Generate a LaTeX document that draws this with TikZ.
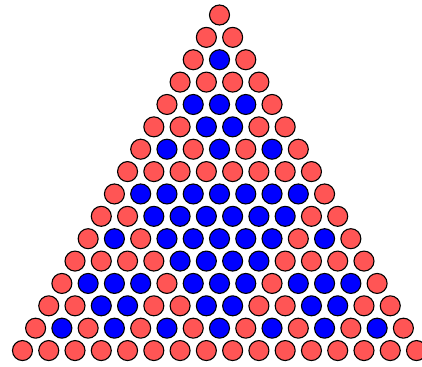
\documentclass[tikz,border=0pt]{standalone}
\usetikzlibrary{positioning}
\usepackage{xcolor}
\definecolor{oddc}{RGB}{255,85,85}
\definecolor{evenc}{RGB}{0,0,255}
\tikzset{
  ball/.style={circle, draw=black, line width=1.1pt, minimum size=20pt, inner sep=0pt}
}

\begin{document}
\begin{tikzpicture}[x=1pt,y=-1pt]
  \useasboundingbox (0,0) rectangle (422,366);

  % Pascal's triangle mod 2: odd entries red, even entries blue
  \foreach \r in {0,...,15}{
    \foreach \k in {0,...,\r}{
      \pgfmathtruncatemacro{\odd}{(mod(floor(\k/1),2)<=mod(floor(\r/1),2))*(mod(floor(\k/2),2)<=mod(floor(\r/2),2))*(mod(floor(\k/4),2)<=mod(floor(\r/4),2))*(mod(floor(\k/8),2)<=mod(floor(\r/8),2))}
      \ifnum\odd=1 \def\fc{oddc}\else\def\fc{evenc}\fi
      \node[ball, fill=\fc] (c\r-\k) at ({219.5+(\k-\r/2)*26.27},{15+\r*22.37}) {};
    }
  }
\end{tikzpicture}
\end{document}
